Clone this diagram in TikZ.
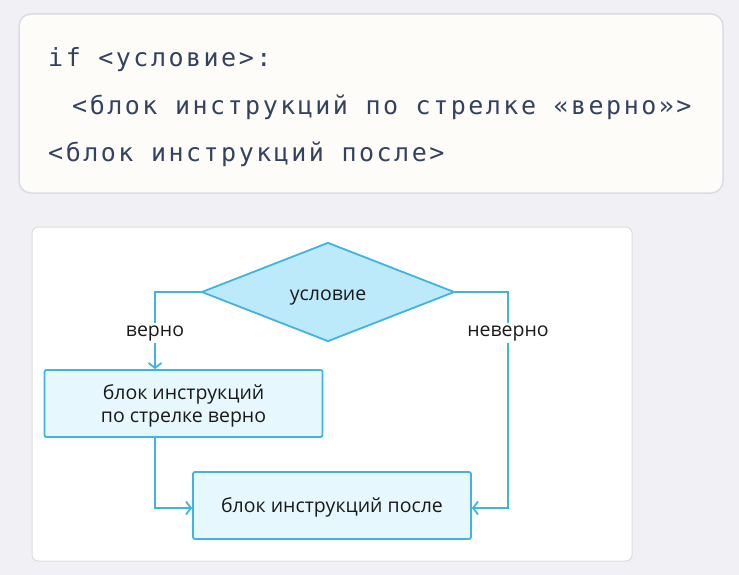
\documentclass[tikz,border=0pt]{standalone}
\usepackage{fontspec}
\setmainfont{Open Sans}
\newfontfamily\codefont[LetterSpace=10]{DejaVu Sans Mono}
\usetikzlibrary{shapes.geometric,arrows.meta}
\definecolor{bgc}{HTML}{F1F0F4}
\definecolor{codebg}{HTML}{FDFCF8}
\definecolor{codeborder}{HTML}{D9DCE4}
\definecolor{codetext}{HTML}{34425F}
\definecolor{panelborder}{HTML}{DCDCDE}
\definecolor{lineblue}{HTML}{3DB4E4}
\definecolor{diamfill}{HTML}{BDEAFA}
\definecolor{boxfill}{HTML}{E6F7FD}
\definecolor{txt}{HTML}{1A1A1A}
\tikzset{
  codeline/.style={anchor=base west, inner sep=0pt, text=codetext, font=\codefont\fontsize{25}{28}\selectfont},
  blockbox/.style={draw=lineblue, line width=1.8pt, fill=boxfill, rounded corners=2pt, inner sep=0pt},
  btext/.style={anchor=base, inner sep=0pt, text=txt, font=\fontsize{19.5}{22}\selectfont},
  conn/.style={draw=lineblue, line width=1.8pt},
  arr/.style={conn, -{Straight Barb[length=5pt, width=13pt, line width=1.8pt]}},
  lbl/.style={fill=white, inner sep=2pt, text=txt, font=\fontsize{19.5}{22}\selectfont}
}
\begin{document}
\begin{tikzpicture}[x=1pt, y=-1pt]
\useasboundingbox (0,0) rectangle (739,575);
\fill[bgc] (0,0) rectangle (739,575);
% code box
\draw[codeborder, fill=codebg, line width=1.5pt, rounded corners=12pt] (19,14) rectangle (723,193);
\node[codeline] (l1) at (48,67) {if <условие>:};
\node[codeline] (l2) at (72,115) {<блок инструкций по стрелке «верно»>};
\node[codeline] (l3) at (48,161) {<блок инструкций после>};
% panel
\fill[black!5, rounded corners=7pt] (30,226) rectangle (634,563);
\draw[panelborder, fill=white, line width=1pt, rounded corners=6pt] (32,227) rectangle (632,561);
% diamond
\node[draw=lineblue, line width=1.8pt, fill=diamfill, diamond, inner sep=0pt,
      minimum width=253pt, minimum height=99pt] (cond) at (328,292) {};
\node[btext] (condt) at (328,300) {условие};
% blocks
\node[blockbox, minimum width=278pt, minimum height=67pt] (b1) at (183.5,403.5) {};
\node[btext] (b1t1) at (183.5,399) {блок инструкций};
\node[btext] (b1t2) at (183.5,422) {по стрелке верно};
\node[blockbox, minimum width=278pt, minimum height=67pt] (b2) at (332,505.5) {};
\node[btext] (b2t) at (332,512) {блок инструкций после};
% connectors
\coordinate (c1) at (155,292);
\coordinate (c2) at (508,292);
\draw[arr] (cond.west) -- (c1) -- (c1 |- b1.north);
\node[lbl, anchor=base] (yes) at (155,336) {верно};
\draw[arr] (cond.east) -- (c2) -- (c2 |- 0,508) -- (b2.east |- 0,508);
\node[lbl, anchor=base] (no) at (508,336) {неверно};
\coordinate (c3) at (155,508);
\draw[arr] (c1 |- b1.south) -- (c3) -- (b2.west |- c3);
\end{tikzpicture}
\end{document}
